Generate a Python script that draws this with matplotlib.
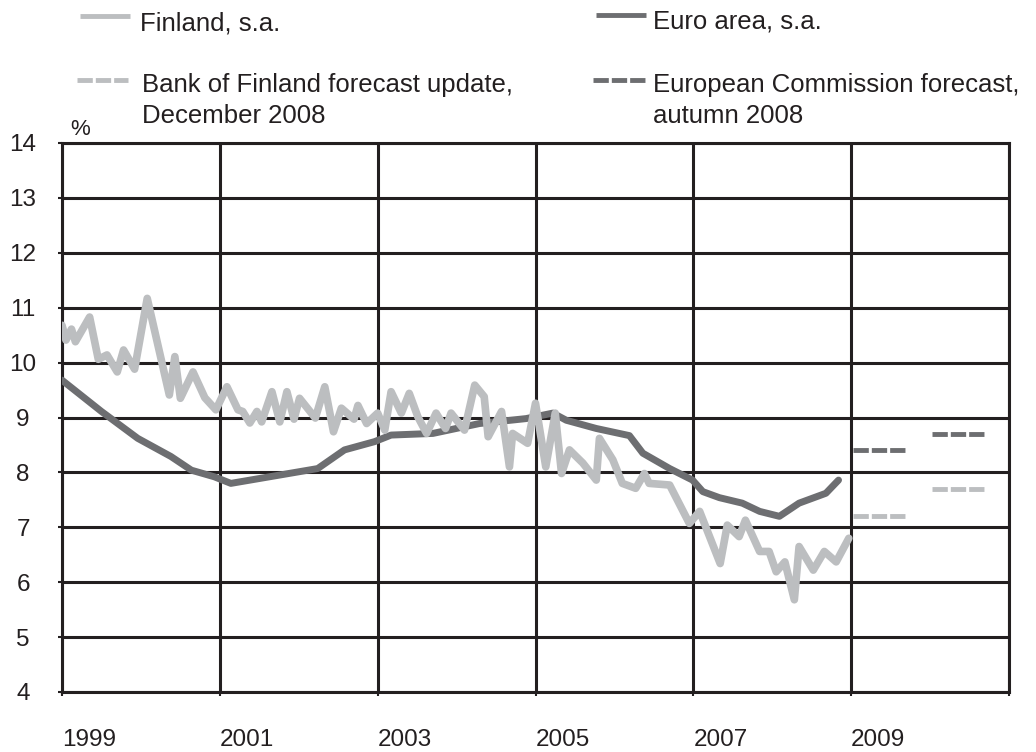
import matplotlib
matplotlib.use("Agg")
import matplotlib.pyplot as plt
from matplotlib.lines import Line2D

plt.rcParams["font.family"] = ["Liberation Sans", "DejaVu Sans"]

# Finland, seasonally adjusted (monthly)
fin_x = [1999.00, 1999.05, 1999.12, 1999.17, 1999.35, 1999.46, 1999.57, 1999.70,
         1999.78, 1999.92, 2000.08, 2000.36, 2000.43, 2000.50, 2000.66, 2000.81,
         2000.95, 2001.09, 2001.23, 2001.29, 2001.38, 2001.47, 2001.53, 2001.66,
         2001.76, 2001.85, 2001.94, 2002.01, 2002.21, 2002.33, 2002.44, 2002.54,
         2002.70, 2002.75, 2002.86, 2003.00, 2003.09, 2003.17, 2003.30, 2003.40,
         2003.51, 2003.62, 2003.74, 2003.86, 2003.93, 2004.10, 2004.23, 2004.35,
         2004.40, 2004.57, 2004.67, 2004.71, 2004.90, 2005.00, 2005.13, 2005.25,
         2005.33, 2005.43, 2005.60, 2005.77, 2005.81, 2005.98, 2006.10, 2006.27,
         2006.38, 2006.44, 2006.70, 2006.95, 2007.08, 2007.34, 2007.43, 2007.58,
         2007.66, 2007.84, 2007.96, 2008.05, 2008.16, 2008.28, 2008.34, 2008.52,
         2008.66, 2008.81, 2008.97]
fin_y = [10.68, 10.41, 10.61, 10.38, 10.83, 10.06, 10.14, 9.83,
         10.23, 9.88, 11.17, 9.41, 10.11, 9.35, 9.83, 9.36,
         9.14, 9.56, 9.14, 9.11, 8.90, 9.11, 8.92, 9.47,
         8.92, 9.47, 8.97, 9.35, 8.99, 9.56, 8.74, 9.17,
         8.97, 9.22, 8.89, 9.08, 8.77, 9.47, 9.08, 9.44,
         9.01, 8.71, 9.08, 8.80, 9.08, 8.77, 9.59, 9.38,
         8.65, 9.11, 8.10, 8.71, 8.53, 9.26, 8.10, 9.08,
         7.98, 8.41, 8.17, 7.86, 8.62, 8.23, 7.80, 7.71,
         7.98, 7.80, 7.77, 7.07, 7.29, 6.34, 7.04, 6.83,
         7.13, 6.56, 6.56, 6.19, 6.37, 5.68, 6.65, 6.22,
         6.56, 6.37, 6.80]

# Euro area, seasonally adjusted
euro_x = [1999.00, 1999.50, 1999.96, 2000.38, 2000.64, 2000.93, 2001.14, 2002.24,
          2002.58, 2002.96, 2003.17, 2003.70, 2004.29, 2004.88, 2005.22, 2005.39,
          2005.77, 2006.19, 2006.36, 2006.70, 2006.99, 2007.12, 2007.33, 2007.62,
          2007.84, 2008.09, 2008.34, 2008.68, 2008.84]
euro_y = [9.68, 9.11, 8.62, 8.29, 8.04, 7.92, 7.80, 8.07,
          8.41, 8.56, 8.68, 8.71, 8.89, 8.98, 9.08, 8.95,
          8.80, 8.67, 8.35, 8.07, 7.86, 7.65, 7.54, 7.44,
          7.29, 7.20, 7.44, 7.62, 7.86]

# forecasts for 2009 and 2010
fc_years = [2009, 2010]
bof_fc = [7.2, 7.7]   # Bank of Finland, December 2008
ec_fc = [8.4, 8.7]    # European Commission, autumn 2008

year_ticks = [1999, 2001, 2003, 2005, 2007, 2009, 2011]
year_labels = ["1999", "2001", "2003", "2005", "2007", "2009", ""]

LIGHT = "#bcbec0"
DARK = "#6d6e71"
INK = "#231f20"
W, H = 1036, 752
dash = (0, (3.15, 0.62))

fig = plt.figure(figsize=(W / 100, H / 100), dpi=100)
ax = fig.add_axes([62 / W, 1 - 692 / H, (1009 - 62) / W, (692 - 143) / H])

ax.plot(euro_x, euro_y, color=DARK, lw=5, solid_capstyle="round", zorder=3)
ax.plot(fin_x, fin_y, color=LIGHT, lw=5.5, solid_capstyle="round", zorder=4)

for yr, v in zip(fc_years, ec_fc):
    ax.plot([yr + 0.02, yr + 0.68], [v, v], color=DARK, lw=3.5, ls=dash,
            dash_capstyle="butt", zorder=3)
for yr, v in zip(fc_years, bof_fc):
    ax.plot([yr + 0.02, yr + 0.68], [v, v], color=LIGHT, lw=3.5, ls=dash,
            dash_capstyle="butt", zorder=3)

ax.set_xlim(1999, 2011)
ax.set_ylim(4, 14)
ax.set_xticks(year_ticks)
ax.set_xticklabels(year_labels)
ax.set_yticks(range(4, 15))
ax.grid(True, color=INK, lw=2.2)
ax.set_axisbelow(True)
for s in ax.spines.values():
    s.set_color(INK)
    s.set_linewidth(2.2)
ax.tick_params(axis="both", length=3, width=1.5, color=INK, labelcolor=INK,
               labelsize=17.5)
ax.tick_params(axis="y", pad=25)
ax.tick_params(axis="x", pad=24)
for lab in ax.get_yticklabels():
    lab.set_ha("center")
for lab in ax.get_xticklabels():
    lab.set_ha("left")

# legend drawn in figure pixels
def px(x, y):
    return x / W, 1 - y / H

def sample(x0, x1, y, color, ls):
    (a, b), (c, _) = px(x0, y), px(x1, y)
    fig.add_artist(Line2D([a, c], [b, b], color=color, lw=3.5, ls=ls,
                          solid_capstyle="butt", dash_capstyle="butt"))

def label(x, y, s):
    fig.text(*px(x, y), s, fontsize=18.5, color=INK, va="baseline", ha="left")

sample(80, 130, 16, LIGHT, "-")
label(140, 31, "Finland, s.a.")
sample(596, 646, 15, DARK, "-")
label(653, 29, "Euro area, s.a.")
sample(77, 128, 80, LIGHT, dash)
label(142, 92, "Bank of Finland forecast update,")
label(142, 123, "December 2008")
sample(593, 645, 80, DARK, dash)
label(653, 92, "European Commission forecast,")
label(653, 123, "autumn 2008")

fig.text(*px(70, 135), "%", fontsize=16, color=INK, va="baseline")

fig.savefig("out.png", dpi=100, facecolor="white")
